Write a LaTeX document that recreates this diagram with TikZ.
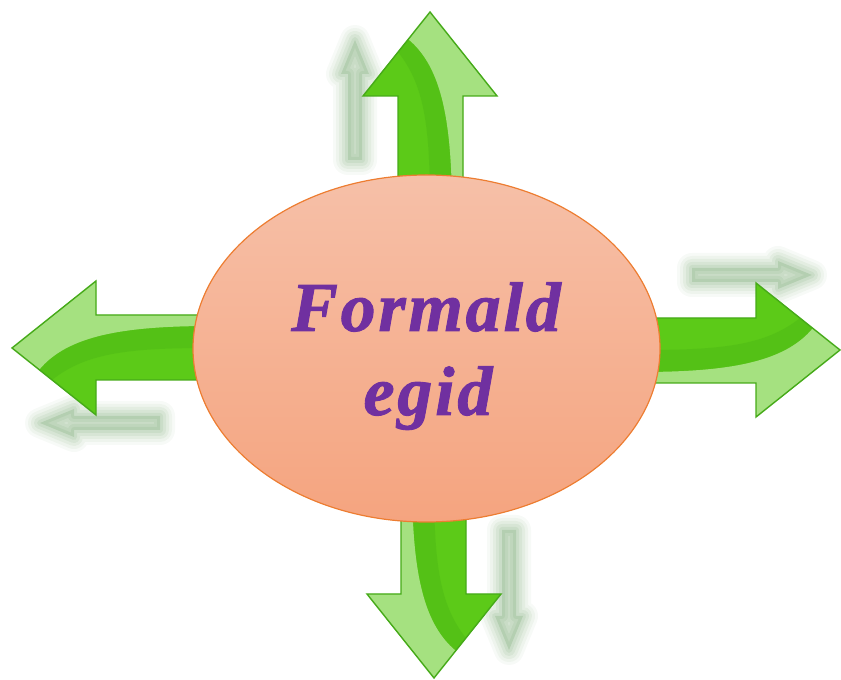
\documentclass[tikz,border=0pt]{standalone}
\usepackage{fontspec}
\setmainfont{Liberation Serif}
\usetikzlibrary{shapes.geometric}
\definecolor{gA}{RGB}{92,202,24}
\definecolor{gEdge}{RGB}{70,170,25}
\definecolor{gDark}{RGB}{40,140,15}
\definecolor{ghostc}{RGB}{55,125,45}
\definecolor{elTop}{RGB}{246,192,168}
\definecolor{elBot}{RGB}{245,164,127}
\definecolor{elLine}{RGB}{237,125,49}
\definecolor{txtc}{RGB}{112,48,160}
\tikzset{
  arrowbody/.style={fill=gA},
  arrowedge/.style={draw=gEdge, line width=1.4pt, line join=miter},
  shine/.style={fill=white, opacity=0.45},
  stripe/.style={fill=gDark, opacity=0.14},
  ghostfill/.style={fill=ghostc, opacity=0.15},
  ellbox/.style={ellipse, draw=elLine, line width=1.2pt, top color=elTop, bottom color=elBot, inner sep=0pt},
  label/.style={text=txtc, font=\fontsize{70}{85}\selectfont\bfseries\itshape\addfontfeatures{LetterSpace=4,FakeBold=1.3}}
}
\newcommand{\greenarrow}{%
  \foreach \w/\o in {30/0.04,24/0.05,18/0.06,12/0.07,6/0.08}{%
    \draw[ghostc, line width=\w pt, opacity=\o, line join=round, line cap=round]
      (-75,-28) -- (-61,-62) -- (-68,-62) -- (-68,-148) -- (-82,-148) -- (-82,-62) -- (-89,-62) -- cycle;}
  \path[ghostfill] (-75,-28) -- (-61,-62) -- (-68,-62) -- (-68,-148) -- (-82,-148) -- (-82,-62) -- (-89,-62) -- cycle;
  \path[arrowbody] (0,0) -- (67,-84) -- (33,-84) -- (33,-200) -- (-32,-200) -- (-32,-84) -- (-67,-84) -- cycle;
  \path[stripe] (-22,-27) .. controls (12,-55) and (22,-110) .. (22,-200) -- (0,-200) .. controls (0,-120) and (-4,-75) .. (-32,-40) -- cycle;
  \path[shine] (-22,-27) -- (0,0) -- (67,-84) -- (33,-84) -- (33,-200) -- (22,-200) .. controls (22,-110) and (12,-55) .. cycle;
  \path[arrowedge] (0,0) -- (67,-84) -- (33,-84) -- (33,-200) -- (-32,-200) -- (-32,-84) -- (-67,-84) -- cycle;
}
\begin{document}
\begin{tikzpicture}[x=1pt,y=1pt]
\useasboundingbox (0,0) rectangle (841,680);
\begin{scope}[shift={(430,668)}]\greenarrow\end{scope}
\begin{scope}[shift={(840,330)},rotate=-90]\greenarrow\end{scope}
\begin{scope}[shift={(12,332)},rotate=90]\greenarrow\end{scope}
\begin{scope}[shift={(434,2)},rotate=180]\greenarrow\end{scope}
\node[ellbox, minimum width=467pt, minimum height=347pt] (c) at (426.5,331.5) {};
\node[label, anchor=base] (t1) at (426,349) {Formald};
\node[label, anchor=base] (t2) at (428,265) {egid};
\end{tikzpicture}
\end{document}
